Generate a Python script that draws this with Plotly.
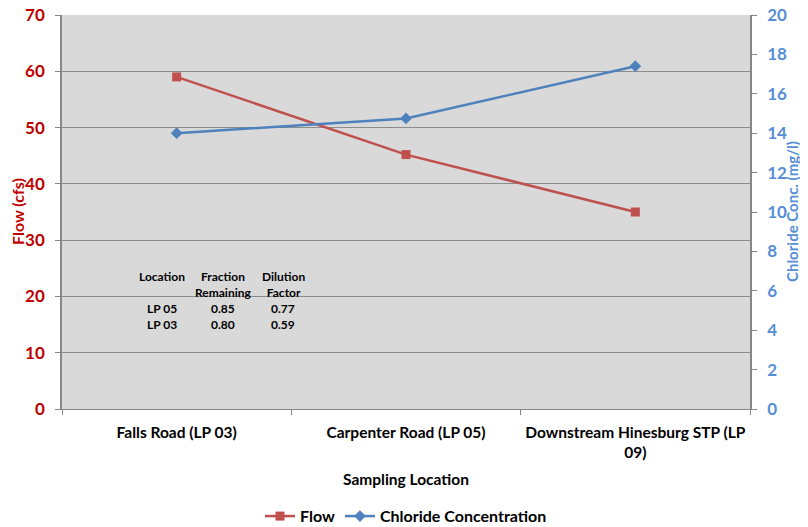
import plotly.graph_objects as go

categories = ["Falls Road (LP 03)", "Carpenter Road (LP 05)", "Downstream Hinesburg STP (LP<br>09)"]
flow = [59.0, 45.2, 35.0]
chloride = [14.0, 14.75, 17.4]

table_header = ["Location", "Fraction<br>Remaining", "Dilution<br>Factor"]
table_location = ["LP 05", "LP 03"]
table_fraction = ["0.85", "0.80"]
table_dilution = ["0.77", "0.59"]

FONT = "Lato, 'Open Sans', sans-serif"
RED_LINE = "#c0504d"
BLUE_LINE = "#4f81bd"
RED_TXT = "#c00000"
BLUE_TXT = "#558ed5"

fig = go.Figure()
fig.add_trace(go.Scatter(
    x=categories, y=flow, name="Flow", mode="lines+markers",
    line=dict(color=RED_LINE, width=2.5),
    marker=dict(symbol="square", size=9, color=RED_LINE),
))
fig.add_trace(go.Scatter(
    x=categories, y=chloride, name="Chloride Concentration", mode="lines+markers",
    line=dict(color=BLUE_LINE, width=2.5),
    marker=dict(symbol="diamond", size=9, color=BLUE_LINE),
    yaxis="y2",
))

# table annotation
col_x = [-0.064, 0.202, 0.464]
ann = []
for i, h in enumerate(table_header):
    ann.append(dict(x=col_x[i], y=25.2, xref="x", yref="y", yanchor="top", text=h, showarrow=False,
                    font=dict(family=FONT, size=12, color="black", weight="bold"), align="center"))
rows_y = [17.9, 15.1]
for cols in range(3):
    vals = [table_location, table_fraction, table_dilution][cols]
    for r, v in enumerate(vals):
        ann.append(dict(x=col_x[cols], y=rows_y[r], xref="x", yref="y", text=v, showarrow=False,
                        font=dict(family=FONT, size=12, color="black", weight="bold")))

# axis titles as annotations
ann.append(dict(x=0, y=0.5, xref="paper", yref="paper", xanchor="center", yanchor="middle",
                xshift=-45, textangle=-90, text="Flow (cfs)", showarrow=False,
                font=dict(family=FONT, size=16, color=RED_TXT, weight="bold")))
ann.append(dict(x=1, y=0.5, xref="paper", yref="paper", xanchor="center", yanchor="middle",
                xshift=42, textangle=-90, text="Chloride Conc. (mg/l)", showarrow=False,
                font=dict(family=FONT, size=15, color=BLUE_TXT, weight="bold")))

fig.update_layout(
    width=800, height=519,
    margin=dict(l=54, r=58, t=7, b=118, autoexpand=False),
    paper_bgcolor="white", plot_bgcolor="#d9d9d9",
    font=dict(family=FONT, color="black"),
    showlegend=True,
    legend=dict(orientation="h", x=0.5, xanchor="center", y=-0.272, yanchor="middle",
                font=dict(family=FONT, size=16, weight="bold", color="black"),
                bgcolor="rgba(0,0,0,0)", itemwidth=30),
    xaxis=dict(
        type="category", tickson="boundaries", ticks="outside", ticklen=5, tickcolor="#868686",
        showline=True, linecolor="#868686", linewidth=1, showgrid=False, automargin=False, tickangle=0,
        ticklabelstandoff=9,
        tickfont=dict(family=FONT, size=15.5, color="black", weight="bold"),
        title=dict(text="Sampling Location", font=dict(family=FONT, size=15.5, color="black", weight="bold"), standoff=14),
        range=[-0.5, 2.5],
    ),
    yaxis=dict(
        range=[0, 70], dtick=10, ticks="outside", ticklen=5, tickcolor="#868686",
        showline=True, linecolor="#868686", linewidth=1.5, automargin=False,
        ticklabeloverflow="allow", ticklabelstandoff=7,
        showgrid=True, gridcolor="#8c8c8c", gridwidth=1, zeroline=False,
        tickfont=dict(family=FONT, size=17, color=RED_TXT, weight="bold"),
    ),
    yaxis2=dict(
        range=[0, 20], dtick=2, overlaying="y", side="right", ticks="outside", ticklen=5, tickcolor="#868686",
        showline=True, linecolor="#868686", linewidth=1.5, showgrid=False, zeroline=False, automargin=False,
        ticklabeloverflow="allow", ticklabelstandoff=7,
        tickfont=dict(family=FONT, size=17, color=BLUE_TXT, weight="bold"),
    ),
    annotations=ann,
)
fig.write_html("out.html")
